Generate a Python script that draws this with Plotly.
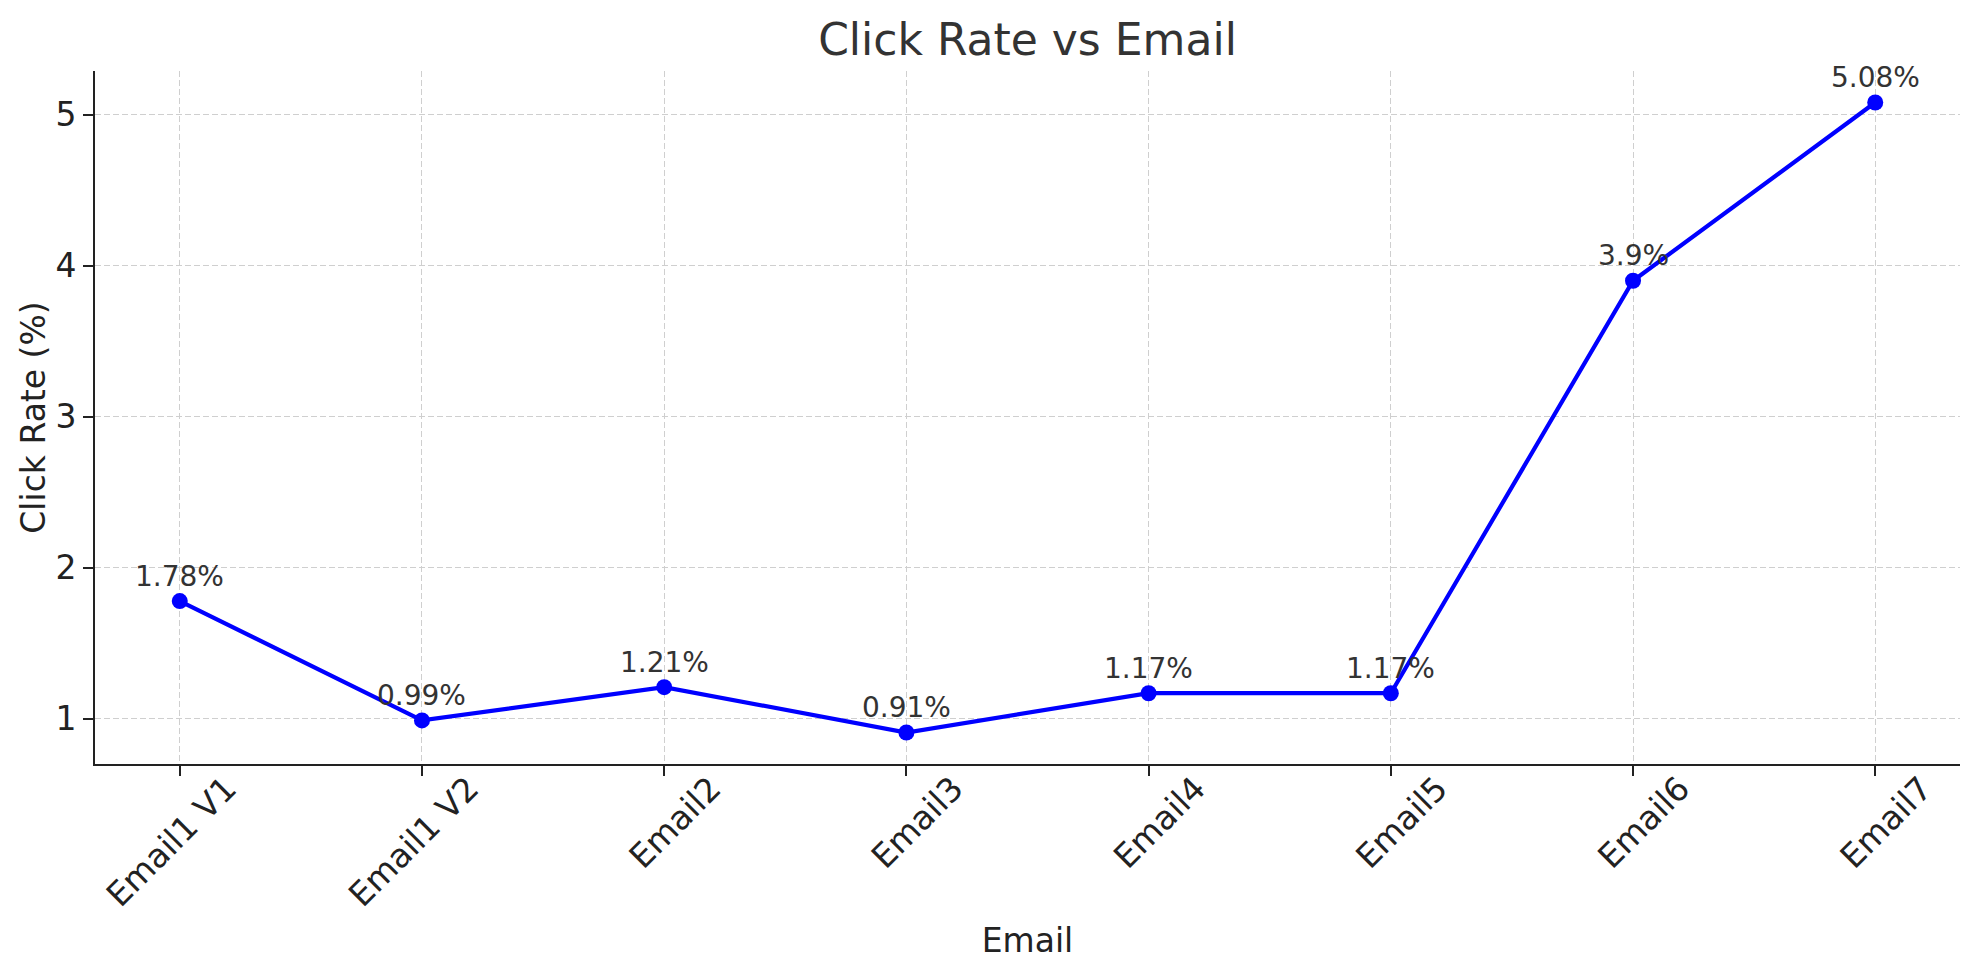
import plotly.graph_objects as go

categories = ["Email1 V1", "Email1 V2", "Email2", "Email3", "Email4", "Email5", "Email6", "Email7"]
click_rate = [1.78, 0.99, 1.21, 0.91, 1.17, 1.17, 3.9, 5.08]
y_ticks = [1, 2, 3, 4, 5]
point_labels = [f"{v:g}%" for v in click_rate]

FONT = "DejaVu Sans"
W, H = 1972, 972

fig = go.Figure()
fig.add_trace(go.Scatter(
    x=categories, y=click_rate, mode="lines+markers",
    line=dict(color="#0000ff", width=4.2),
    marker=dict(color="#0000ff", size=16),
    showlegend=False, hoverinfo="skip",
))

for c, v, t in zip(categories, click_rate, point_labels):
    fig.add_annotation(x=c, y=v, text=t, showarrow=False, xanchor="center",
                       yanchor="middle", yshift=25,
                       font=dict(family=FONT, size=28, color="#333333"))

fig.update_layout(
    width=W, height=H,
    paper_bgcolor="white", plot_bgcolor="white",
    margin=dict(l=87, r=20, t=63, b=216, autoexpand=False),
    title=dict(text="Click Rate vs Email", x=0.5, xref="paper", xanchor="center",
               y=1 - 32 / H, yref="container", yanchor="middle",
               font=dict(family=FONT, size=44, color="#333333")),
    font=dict(family=FONT, color="#222222"),
)

fig.update_xaxes(
    type="category", range=[-0.35, 7.35],
    showline=True, linecolor="#222222", linewidth=2, mirror=False,
    ticks="outside", ticklen=10, tickwidth=2, tickcolor="#222222",
    tickangle=-45, tickfont=dict(family=FONT, size=33, color="#222222"),
    ticklabelshift=47, ticklabelstandoff=-20,
    showgrid=True, gridcolor="#cfcfcf", gridwidth=1.4, griddash="6px,3px",
    zeroline=False,
    title=dict(text="Email", font=dict(family=FONT, size=33, color="#222222"), standoff=16),
)
fig.update_yaxes(
    range=[0.7015, 5.2885], tickvals=y_ticks, ticktext=[str(t) for t in y_ticks],
    showline=True, linecolor="#222222", linewidth=2, mirror=False,
    ticks="outside", ticklen=10, tickwidth=2, tickcolor="#222222",
    tickfont=dict(family=FONT, size=33, color="#222222"),
    showgrid=True, gridcolor="#cfcfcf", gridwidth=1.4, griddash="6px,3px",
    zeroline=False,
    title=dict(text="Click Rate (%)", font=dict(family=FONT, size=33, color="#222222"), standoff=0),
)

fig.write_html("out.html")
